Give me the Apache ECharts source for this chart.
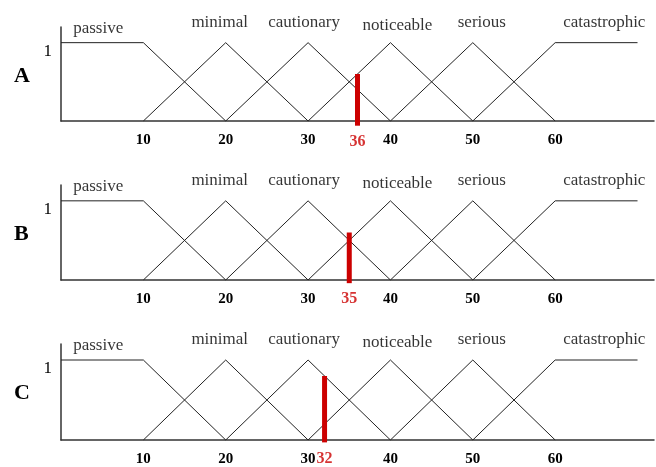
<!DOCTYPE html>
<html>
<head>
<meta charset="utf-8">
<script src="https://cdn.jsdelivr.net/npm/echarts@6/dist/echarts.min.js"></script>
<style>html,body{margin:0;padding:0;background:#fff}#c{width:656px;height:467px}</style>
</head>
<body>
<div id="c"></div>
<script>
// ---- data ----
const terms = ['passive', 'minimal', 'cautionary', 'noticeable', 'serious', 'catastrophic'];
const termX = [[0, 10, 20], [10, 20, 30], [20, 30, 40], [30, 40, 50], [40, 50, 60], [50, 60, 70]];
const termY = [[1, 1, 0], [0, 1, 0], [0, 1, 0], [0, 1, 0], [0, 1, 0], [0, 1, 1]];
const panels = ['A', 'B', 'C'];
const inputs = [36, 35, 32];
const barTops = [0.6, 0.6, 0.8];
const barBottoms = [-0.06, -0.04, -0.03];
const xTicks = [10, 20, 30, 40, 50, 60];

// ---- layout / style ----
const gridTops = [27, 185, 344];
const gridHeights = [94, 95, 97];
const labelShift = [[-4, 6], [-6, 0], [-4, 0], [7, 3], [9, 0], [8, 0]]; // px nudges of term labels
const serif = '"Liberation Serif", "Times New Roman", serif';
const red = '#cc0000';

const grids = [], xAxes = [], yAxes = [], series = [], graphics = [];
panels.forEach((p, i) => {
  grids.push({ left: 61, right: 2, top: gridTops[i], height: gridHeights[i] });
  xAxes.push({
    gridIndex: i, type: 'value', min: 0, max: 72, interval: 10,
    axisLine: { show: true, onZero: false, lineStyle: { color: '#333', width: 1.5 } },
    axisTick: { show: false }, splitLine: { show: false },
    axisLabel: {
      margin: 12, color: '#000', fontFamily: serif, fontWeight: 'bold', fontSize: 15,
      showMaxLabel: false, showMinLabel: false,
      formatter: v => xTicks.indexOf(v) >= 0 ? String(v) : ''
    }
  });
  yAxes.push({
    gridIndex: i, type: 'value', min: 0, max: 1.2, interval: 1,
    axisLine: { show: true, lineStyle: { color: '#333', width: 1.5 } },
    axisTick: { show: false }, splitLine: { show: false },
    axisLabel: {
      margin: 9, color: '#000', fontFamily: serif, fontSize: 17, verticalAlign: 'top',
      showMaxLabel: false, showMinLabel: false,
      formatter: v => v === 1 ? '1' : ''
    }
  });
  terms.forEach((t, k) => {
    series.push({
      type: 'line', xAxisIndex: i, yAxisIndex: i, symbol: 'none', silent: true,
      lineStyle: { color: '#222', width: 1 },
      data: termX[k].map((x, j) => [x, termY[k][j]])
    });
  });
  // term labels placed over the centre of each term's top
  series.push({
    type: 'scatter', xAxisIndex: i, yAxisIndex: i, symbolSize: 0, silent: true,
    label: {
      show: true, position: 'top', distance: 12, color: '#000',
      fontFamily: serif, fontSize: 17, formatter: d => d.value[2]
    },
    data: terms.map((t, k) => {
      const xs = termX[k].filter((x, j) => termY[k][j] === 1);
      const cx = xs.reduce((a, b) => a + b, 0) / xs.length;
      return { value: [cx, 1, t], label: { offset: labelShift[k] } };
    })
  });
  // red input marker
  series.push({
    type: 'line', xAxisIndex: i, yAxisIndex: i, symbol: 'none', silent: true, clip: false,
    lineStyle: { color: red, width: 5, cap: 'butt' },
    data: [[inputs[i], barBottoms[i]], [inputs[i], barTops[i]]]
  });
  series.push({
    type: 'scatter', xAxisIndex: i, yAxisIndex: i, symbolSize: 0, silent: true, clip: false,
    label: {
      show: true, position: 'bottom', distance: 8, color: red,
      fontFamily: serif, fontWeight: 'bold', fontSize: 16, formatter: d => String(d.value[0])
    },
    data: [[inputs[i], barBottoms[i]]]
  });
  graphics.push({
    type: 'text', left: 14, top: gridTops[i] + 38,
    style: { text: p, font: 'bold 22px ' + serif, fill: '#000' }
  });
});

const chart = echarts.init(document.getElementById('c'), null, { renderer: 'canvas' });
chart.setOption({
  animation: false,
  backgroundColor: '#fff',
  grid: grids, xAxis: xAxes, yAxis: yAxes, series: series, graphic: graphics
});
</script>
</body>
</html>
